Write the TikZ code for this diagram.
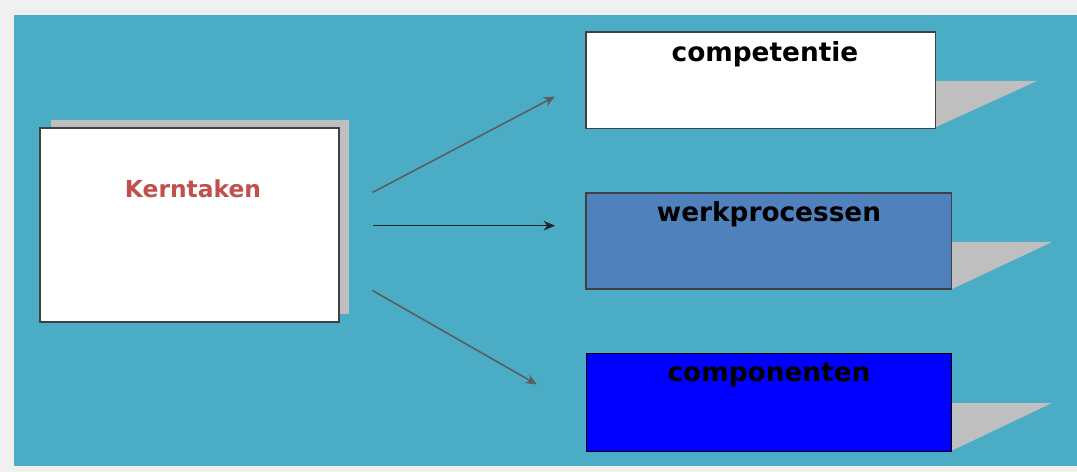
\documentclass[tikz,border=0pt]{standalone}
\usepackage{fontspec}
\setmainfont{DejaVu Sans}
\usepackage{xcolor}
\usetikzlibrary{arrows.meta}
\definecolor{achter}{HTML}{4BACC6}
\definecolor{rand}{HTML}{F0F0F0}
\definecolor{schaduw}{HTML}{BFBFBF}
\definecolor{kernrood}{HTML}{C0504D}
\definecolor{werkblauw}{HTML}{4F81BD}
\definecolor{lijn}{HTML}{404040}
\newcommand{\kop}{\fontsize{15}{18}\selectfont\bfseries}

\begin{document}
\begin{tikzpicture}[x=0.02cm,y=-0.02cm]
        \fill[rand] (0,0) rectangle (1077,472);
        \fill[achter] (14,15) rectangle (1077,466);

        % kerntaken
        \fill[schaduw] (51,120) rectangle (349,314);
        \filldraw[fill=white, draw=lijn, line width=0.7pt] (40,128) rectangle (339,322);
        \draw[lijn, line width=1.1pt] (339,128) -- (339,322) -- (40,322);
        \node[anchor=base, text=kernrood] (kern) at (193,197.5) {\fontsize{13.3}{16}\selectfont\bfseries Kerntaken};

        % competentie
        \fill[schaduw] (936,81) -- (1037,81) -- (936,127) -- cycle;
        \filldraw[fill=white, draw=lijn, line width=0.7pt] (586,32) rectangle (935.5,128.5);
        \node[anchor=base] (comp) at (765,61.5) {\kop competentie};

        % werkprocessen
        \fill[schaduw] (952,242) -- (1052,242) -- (952,289) -- cycle;
        \filldraw[fill=werkblauw, draw=lijn, line width=0.8pt] (586,193) rectangle (951.5,289);
        \node[anchor=base] (werk) at (769,221.5) {\kop werkprocessen};

        % componenten
        \fill[schaduw] (951,403) -- (1052,403) -- (951,451) -- cycle;
        \filldraw[fill=blue, draw=black, line width=0.5pt] (586,353) rectangle (951,451.5);
        \node[anchor=base] (comp2) at (769,381.5) {\kop componenten};

        \coordinate (k1) at (372.5,192.5);
        \coordinate (k2) at (372.5,225.7);
        \coordinate (k3) at (372.5,290.5);
        \coordinate (c1) at (555,96.5);
        \coordinate (w1) at (555,225.7);
        \coordinate (o1) at (537,384.5);

        \draw[-{Stealth[length=6.5pt,width=5.5pt]}, color=lijn!85, line width=0.9pt] (k1) -- (c1);
        \draw[-{Stealth[length=6.5pt,width=5.5pt]}, color=black!85, line width=0.8pt] (k2) -- (w1);
        \draw[-{Stealth[length=6.5pt,width=5.5pt]}, color=lijn!85, line width=0.9pt] (k3) -- (o1);
    \end{tikzpicture}
\end{document}
